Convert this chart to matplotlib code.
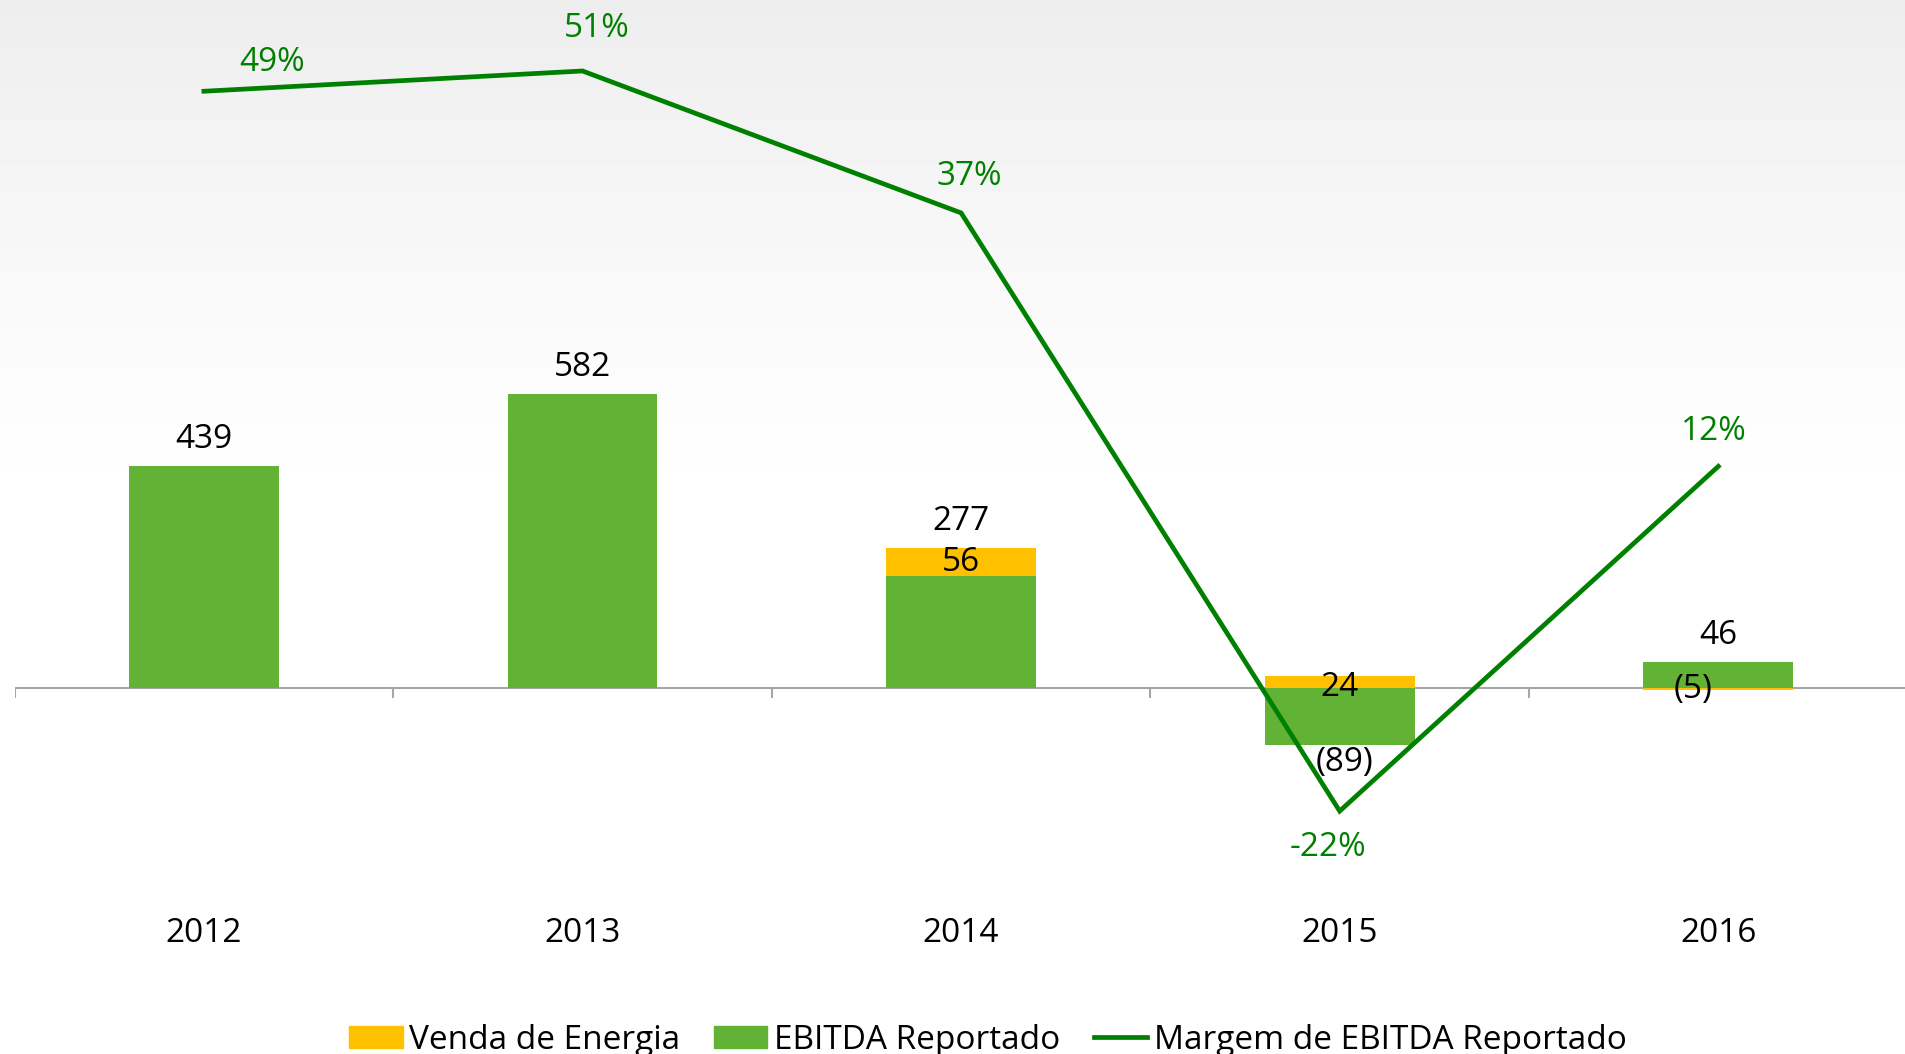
import numpy as np
import matplotlib.pyplot as plt
from matplotlib.patches import Patch
from matplotlib.lines import Line2D
from matplotlib import transforms

plt.rcParams['font.family'] = ['Open Sans', 'DejaVu Sans']

# data
anos = ['2012', '2013', '2014', '2015', '2016']
ebitda = [439, 582, 221, -113, 51]      # EBITDA Reportado (green)
venda = [0, 0, 56, 24, -5]              # Venda de Energia (orange)
total = [439, 582, 277, -89, 46]
margem = [49, 51, 37, -22, 12]          # Margem de EBITDA Reportado (%)

c_orange = '#FFC000'
c_green = '#62B236'
c_line = '#008000'

def fmt(v):
    return '({})'.format(-v) if v < 0 else str(v)

W, H = 1905, 1054
fig = plt.figure(figsize=(W / 100, H / 100), dpi=100)

# soft gray gradient behind the chart
bg = fig.add_axes([0, 0, 1, 1], zorder=-10)
yy = np.linspace(0, 1, 300)[:, None]
grad = 1 - 0.07 * np.clip(1 - yy / 0.5, 0, 1) ** 1.3
bg.imshow(np.repeat(grad, 10, axis=1), cmap='gray', vmin=0, vmax=1,
          aspect='auto', extent=[0, 1, 0, 1], origin='upper')
bg.axis('off')

ax = fig.add_axes([14.6 / W, 1 - 900 / H, 1893 / W, 900 / H])
ax.patch.set_alpha(0)
x = np.arange(len(anos))
width = 0.396

g = np.array(ebitda)
o = np.array(venda)
pos_base = np.where(g > 0, g, 0)
neg_base = np.where(g < 0, g, 0)
o_bottom = np.where(o >= 0, pos_base, neg_base)

ax.bar(x, g, width, color=c_green, zorder=2)
ax.bar(x, o, width, bottom=o_bottom, color=c_orange, zorder=2)

ax.set_xlim(-0.5, 4.5)
ax.set_ylim(-420, 1362)
ax.axhline(0, color='#A6A6A6', lw=1.5, zorder=1)
ax.vlines(x - 0.5, 0, -20, color='#A6A6A6', lw=1.5)
ax.axis('off')

fs = 24
# orange segment labels
o_offs = [(0, 0), (0, 0), (0, 0), (0, -6), (-25, 0)]
for i in range(len(x)):
    if venda[i] != 0:
        yc = o_bottom[i] + o[i] / 2
        ax.annotate(fmt(venda[i]), (x[i], yc), xytext=(o_offs[i][0], o_offs[i][1]),
                    textcoords='offset pixels', ha='center', va='center',
                    fontsize=fs, color='black', zorder=4)
# totals
for i in range(len(x)):
    top = pos_base[i] + max(o[i], 0)
    bot = neg_base[i] + min(o[i], 0)
    if total[i] >= 0:
        ax.annotate(fmt(total[i]), (x[i], top), xytext=(0, 10),
                    textcoords='offset pixels', ha='center', va='bottom',
                    fontsize=fs, color='black')
    else:
        ax.annotate(fmt(total[i]), (x[i], bot), xytext=(5, -1),
                    textcoords='offset pixels', ha='center', va='top',
                    fontsize=fs, color='black')

# margin line
ax2 = ax.twinx()
ax2.set_position(ax.get_position())
ax2.set_ylim(-30.77, 58.0)
ax2.plot(x, margem, color=c_line, lw=3.4, zorder=3, solid_joinstyle='miter')
ax2.axis('off')
offs = [(68, 29), (14, 42), (8, 36), (-12, -36), (-4, 35)]
for i in range(len(x)):
    ax2.annotate('{}%'.format(margem[i]), (x[i], margem[i]), xytext=offs[i],
                 textcoords='offset pixels', ha='center', va='center',
                 fontsize=fs, color=c_line)

# year labels under the chart
tr = transforms.blended_transform_factory(ax.transData, fig.transFigure)
for i in range(len(x)):
    ax.text(x[i], 1 - 933 / H, anos[i], transform=tr, ha='center',
            va='center', fontsize=fs, color='black')

handles = [Patch(color=c_orange), Patch(color=c_green),
           Line2D([0], [0], color=c_line, lw=3.4)]
labels = ['Venda de Energia', 'EBITDA Reportado', 'Margem de EBITDA Reportado']
fig.legend(handles, labels, loc='center', bbox_to_anchor=(0.5186, 0.013),
           ncol=3, frameon=False, fontsize=fs, handlelength=1.6,
           handleheight=0.66, handletextpad=0.2, columnspacing=1.0,
           borderaxespad=0, borderpad=0)

fig.savefig('out.png', dpi=100)
